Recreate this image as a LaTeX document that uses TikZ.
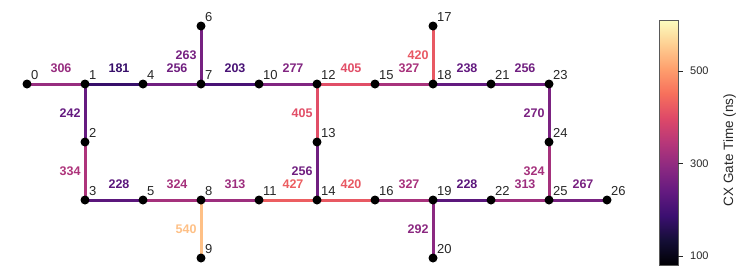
\documentclass[tikz,border=0pt]{standalone}
\usepackage{fontspec}
\setmainfont{Liberation Sans}
\usepackage{tikz}
\usetikzlibrary{backgrounds}
\usepackage{xcolor}
% magma colormap, t = 0, 0.1, ..., 1
\definecolor{mag0}{RGB}{0,0,4}
\definecolor{mag1}{RGB}{20,14,54}
\definecolor{mag2}{RGB}{59,15,112}
\definecolor{mag3}{RGB}{100,26,128}
\definecolor{mag4}{RGB}{140,41,129}
\definecolor{mag5}{RGB}{183,55,121}
\definecolor{mag6}{RGB}{222,73,104}
\definecolor{mag7}{RGB}{247,112,92}
\definecolor{mag8}{RGB}{254,159,109}
\definecolor{mag9}{RGB}{254,207,146}
\definecolor{mag10}{RGB}{252,253,191}
\definecolor{labgray}{RGB}{38,38,38}
\pgfdeclareverticalshading{magma}{100bp}{color(0bp)=(mag0); color(25bp)=(mag0);
  color(30bp)=(mag1); color(35bp)=(mag2); color(40bp)=(mag3); color(45bp)=(mag4);
  color(50bp)=(mag5); color(55bp)=(mag6); color(60bp)=(mag7); color(65bp)=(mag8);
  color(70bp)=(mag9); color(75bp)=(mag10); color(100bp)=(mag10)}
\newcommand{\glab}{\fontsize{12.5}{14}\selectfont\bfseries}
% coupler between two qubits, coloured by its gate time (vmin 81, vmax 610)
\newcommand{\cxedge}[4]{%
  \pgfmathsetmacro\gt{10*(#3-81)/529}%
  \pgfmathtruncatemacro\gi{floor(\gt)}%
  \pgfmathtruncatemacro\gj{\gi+1}%
  \pgfmathtruncatemacro\gf{round(100*(\gj-\gt))}%
  \colorlet{gatecol}{mag\gi!\gf!mag\gj}%
  \draw[cxline, gatecol] (#1.center) -- (#2.center) node[#4] {#3};}

\begin{document}
\begin{tikzpicture}[x=1pt, y=-1pt,
  qlab/.style={inner sep=0pt, label distance=1pt, text=labgray, font=\fontsize{13}{15}\selectfont},
  qubit/.style={circle, fill=black, inner sep=0pt, minimum size=9pt, label={[qlab]north east:#1}},
  cxline/.style={line width=3pt},
  hlab/.style={midway, inner sep=0pt, xshift=5pt, yshift=16pt, font=\glab},
  vlab/.style={midway, anchor=east, inner sep=0pt, xshift=-3pt, font=\glab},
  ticklab/.style={anchor=west, inner sep=0pt, text=labgray, font=\fontsize{11}{13}\selectfont}]
  \useasboundingbox (0,0) rectangle (748,277);
  % qubits
  \node[qubit=0] (q0) at (27,84) {};
  \node[qubit=1] (q1) at (85,84) {};
  \node[qubit=4] (q4) at (143,84) {};
  \node[qubit=7] (q7) at (201,84) {};
  \node[qubit=10] (q10) at (259,84) {};
  \node[qubit=12] (q12) at (317,84) {};
  \node[qubit=15] (q15) at (375,84) {};
  \node[qubit=18] (q18) at (433,84) {};
  \node[qubit=21] (q21) at (491,84) {};
  \node[qubit=23] (q23) at (549,84) {};
  \node[qubit=6] (q6) at (201,26) {};
  \node[qubit=17] (q17) at (433,26) {};
  \node[qubit=2] (q2) at (85,142) {};
  \node[qubit=13] (q13) at (317,142) {};
  \node[qubit=24] (q24) at (549,142) {};
  \node[qubit=3] (q3) at (85,200) {};
  \node[qubit=5] (q5) at (143,200) {};
  \node[qubit=8] (q8) at (201,200) {};
  \node[qubit=11] (q11) at (259,200) {};
  \node[qubit=14] (q14) at (317,200) {};
  \node[qubit=16] (q16) at (375,200) {};
  \node[qubit=19] (q19) at (433,200) {};
  \node[qubit=22] (q22) at (491,200) {};
  \node[qubit=25] (q25) at (549,200) {};
  \node[qubit=26] (q26) at (607,200) {};
  \node[qubit=9] (q9) at (201,258) {};
  \node[qubit=20] (q20) at (433,258) {};
  % couplers
  \begin{scope}[on background layer]
    \cxedge{q0}{q1}{306}{hlab}
    \cxedge{q1}{q4}{181}{hlab}
    \cxedge{q4}{q7}{256}{hlab}
    \cxedge{q7}{q10}{203}{hlab}
    \cxedge{q10}{q12}{277}{hlab}
    \cxedge{q12}{q15}{405}{hlab}
    \cxedge{q15}{q18}{327}{hlab}
    \cxedge{q18}{q21}{238}{hlab}
    \cxedge{q21}{q23}{256}{hlab}
    \cxedge{q6}{q7}{263}{vlab}
    \cxedge{q17}{q18}{420}{vlab}
    \cxedge{q1}{q2}{242}{vlab}
    \cxedge{q2}{q3}{334}{vlab}
    \cxedge{q12}{q13}{405}{vlab}
    \cxedge{q13}{q14}{256}{vlab}
    \cxedge{q23}{q24}{270}{vlab}
    \cxedge{q24}{q25}{324}{vlab}
    \cxedge{q8}{q9}{540}{vlab}
    \cxedge{q19}{q20}{292}{vlab}
    \cxedge{q3}{q5}{228}{hlab}
    \cxedge{q5}{q8}{324}{hlab}
    \cxedge{q8}{q11}{313}{hlab}
    \cxedge{q11}{q14}{427}{hlab}
    \cxedge{q14}{q16}{420}{hlab}
    \cxedge{q16}{q19}{327}{hlab}
    \cxedge{q19}{q22}{228}{hlab}
    \cxedge{q22}{q25}{313}{hlab}
    \cxedge{q25}{q26}{267}{hlab}
  \end{scope}
  % colour bar
  \shade[shading=magma] (659,20) rectangle (678,265);
  \draw[black!65, line width=0.8pt] (659,20) rectangle (678,265);
  \draw[labgray, line width=0.8pt] (678,256.2) -- (683,256.2);
  \draw[labgray, line width=0.8pt] (678,163.6) -- (683,163.6);
  \draw[labgray, line width=0.8pt] (678,71) -- (683,71);
  \node[ticklab] at (690,256.2) {100};
  \node[ticklab] at (690,163.6) {300};
  \node[ticklab] at (690,71) {500};
  \node[rotate=90, anchor=base, inner sep=0pt, text=labgray, font=\fontsize{13.5}{15}\selectfont] at (733,150) {CX Gate Time (ns)};
\end{tikzpicture}
\end{document}
